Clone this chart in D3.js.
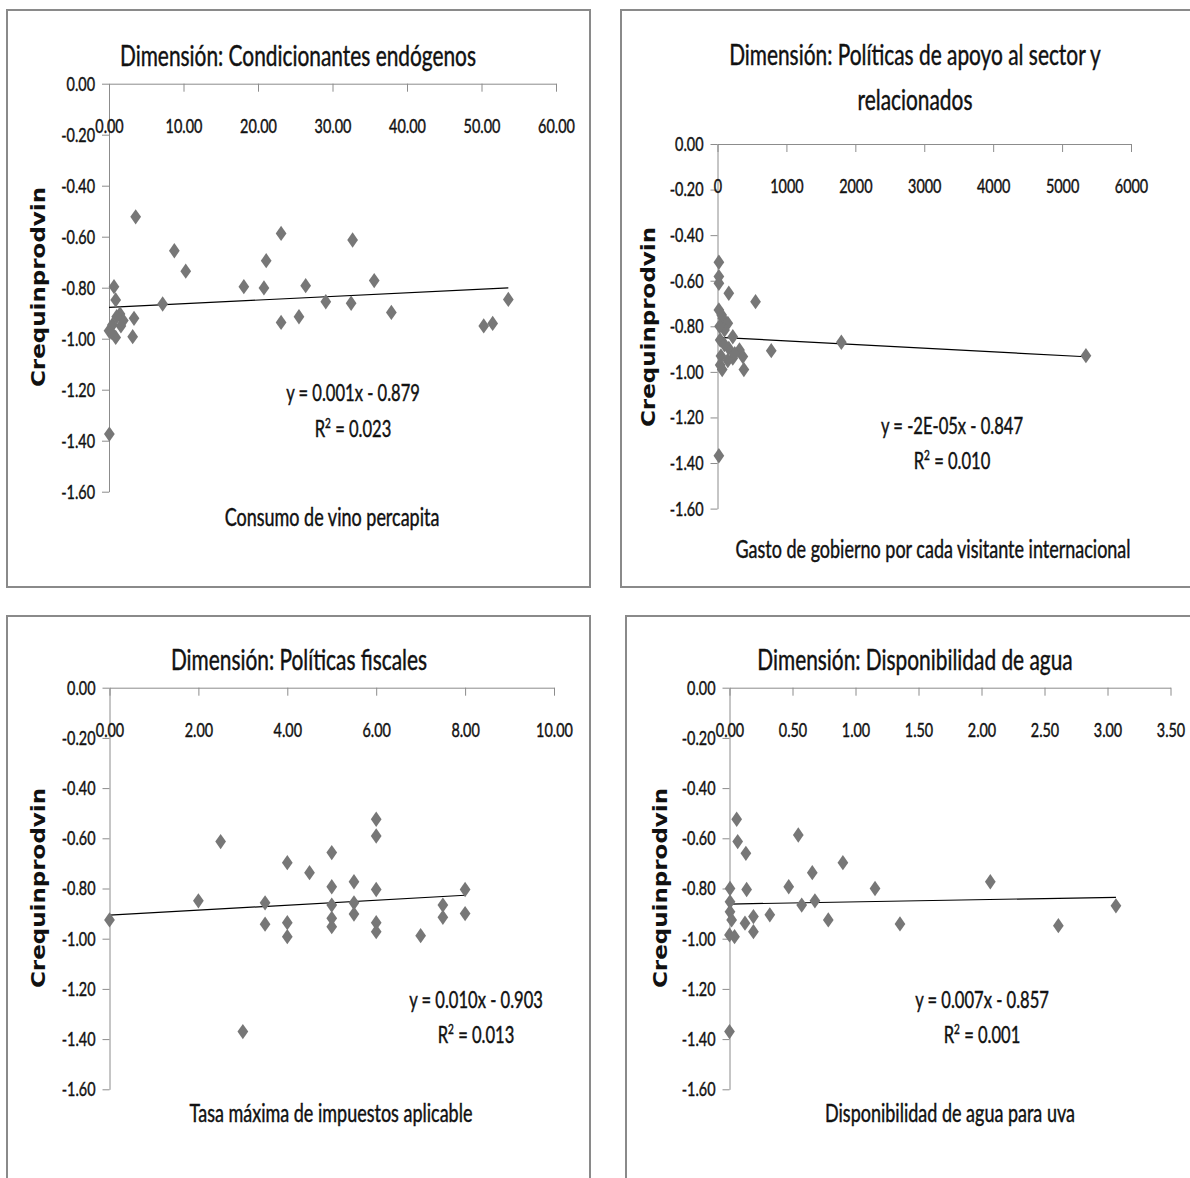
<!DOCTYPE html>
<html>
<head>
<meta charset="utf-8">
<script src="https://cdn.jsdelivr.net/npm/d3@7"></script>
<style>
  body { margin: 0; background: #fff; }
  text { font-family: Lato, "Open Sans", sans-serif; fill: #111; }
  text.heavy { stroke: #111; stroke-width: 0.45px; }
</style>
</head>
<body>
<div id="chart"></div>
<script>
// values
const titles = [
    ["Dimensión: Condicionantes endógenos"],
    ["Dimensión: Políticas de apoyo al sector y", "relacionados"],
    ["Dimensión: Políticas fiscales"],
    ["Dimensión: Disponibilidad de agua"]
];
const xTitles = [
    "Consumo de vino percapita",
    "Gasto de gobierno por cada visitante internacional",
    "Tasa máxima de impuestos aplicable",
    "Disponibilidad de agua para uva"
];
const yTitle = "Crequinprodvin";

const consumoX = [3.58, 8.77, 10.3, 23.1, 21.1, 32.7, 35.6, 18.1, 20.8, 26.4, 7.2, 29.1, 32.5, 37.9, 23.1, 25.5, 50.3, 51.5, 53.6, 0.05, 0.67, 0.9, 0.0, 0.45, 0.9, 1.48, 1.92, 1.03, 3.36, 3.18, 0.3, 1.6];
const consumoY = [-0.522, -0.655, -0.735, -0.587, -0.694, -0.613, -0.772, -0.796, -0.801, -0.792, -0.864, -0.855, -0.861, -0.897, -0.936, -0.914, -0.950, -0.940, -0.846, -1.374, -0.796, -0.848, -0.969, -0.946, -0.995, -0.903, -0.929, -0.914, -0.920, -0.992, -0.975, -0.950];

const gastoX = [20, 20, 20, 164, 552, 20, 77, 150, 102, 222, 39, 164, 319, 368, 222, 39, 68, 383, 780, 1797, 5346, 20, 60, 100, 50, 150, 250, 30];
const gastoY = [-0.519, -0.582, -0.611, -0.655, -0.692, -0.728, -0.765, -0.787, -0.816, -0.846, -0.860, -0.897, -0.904, -0.933, -0.940, -0.970, -0.990, -0.990, -0.907, -0.870, -0.929, -1.368, -0.750, -0.880, -0.930, -0.950, -0.920, -0.800];

const tasaX = [0, 2, 2.5, 3, 3.5, 3.5, 4, 4, 4, 4.5, 5, 5, 5, 5, 5, 5.5, 5.5, 5.5, 6, 6, 6, 6, 6, 7, 7.5, 7.5, 8, 8];
const tasaY = [-0.925, -0.849, -0.613, -1.370, -0.857, -0.942, -0.697, -0.936, -0.992, -0.737, -0.657, -0.793, -0.866, -0.919, -0.952, -0.773, -0.857, -0.902, -0.524, -0.591, -0.804, -0.936, -0.972, -0.988, -0.866, -0.915, -0.804, -0.900];

const aguaX = [0.057, 0.065, 0.13, 0.546, 0.90, 0.657, 0.47, 0.136, 0.004, 1.155, 2.07, 0.573, 0.678, 0.004, 0.004, 0.017, 0.32, 0.19, 0.123, 0.784, 1.353, 0.19, 0, 0.04, 2.61, 3.067, 0];
const aguaY = [-0.524, -0.613, -0.660, -0.587, -0.697, -0.737, -0.793, -0.804, -0.800, -0.800, -0.773, -0.866, -0.849, -0.853, -0.893, -0.925, -0.905, -0.912, -0.938, -0.925, -0.941, -0.972, -0.985, -0.992, -0.948, -0.869, -1.370];

const trendSlope = [0.00143, -0.000016, 0.0099, 0.0088];
const trendIntercept = [-0.877, -0.848, -0.906, -0.862];
const eqLabels = ["y = 0.001x - 0.879", "y = -2E-05x - 0.847", "y = 0.010x - 0.903", "y = 0.007x - 0.857"];
const r2Labels = ["0.023", "0.010", "0.013", "0.001"];

const xTicks = [
    [0, 10, 20, 30, 40, 50, 60],
    [0, 1000, 2000, 3000, 4000, 5000, 6000],
    [0, 2, 4, 6, 8, 10],
    [0, 0.5, 1, 1.5, 2, 2.5, 3, 3.5]
];
const yTicks = [0, -0.2, -0.4, -0.6, -0.8, -1.0, -1.2, -1.4, -1.6];

// layout of the four boxes
const SX = 0.72;   // the picture's text is narrow
const panels = [
    {xs: consumoX, ys: consumoY, box: [7, 10, 583, 577], px: [109, 556], py: [83.7, 491.7],
     title: [298, [66]], xt: [332, 526], yt: [38, 287], eq: [353, 401, 437], fmt: d => d.toFixed(2)},
    {xs: gastoX, ys: gastoY, box: [621, 10, 600, 577], px: [717.5, 1131], py: [144, 508.6],
     title: [915, [65, 110]], xt: [933, 558], yt: [648, 327], eq: [952, 434, 469], fmt: d => String(d)},
    {xs: tasaX, ys: tasaY, box: [7, 616, 583, 600], px: [109.5, 554], py: [687.7, 1089.3],
     title: [299, [670]], xt: [331, 1122], yt: [38, 888], eq: [476, 1008, 1043], fmt: d => d.toFixed(2)},
    {xs: aguaX, ys: aguaY, box: [626, 616, 600, 600], px: [729.5, 1170.5], py: [687.7, 1089.3],
     title: [915, [670]], xt: [950, 1122], yt: [660, 888], eq: [982, 1008, 1043], fmt: d => d.toFixed(2)}
];

const svg = d3.select("#chart").append("svg")
    .attr("width", 1190)
    .attr("height", 1178);

function label(g, s, x, y, size) {
    return g.append("text")
        .attr("class", "heavy")
        .attr("transform", `translate(${x},${y}) scale(${SX},1)`)
        .attr("text-anchor", "middle")
        .attr("font-size", size)
        .text(s);
}

const diamond = d3.symbol().type(d3.symbolDiamond2).size(150);

panels.forEach(function(p, i) {
    const g = svg.append("g");

    g.append("rect")
        .attr("x", p.box[0]).attr("y", p.box[1])
        .attr("width", p.box[2]).attr("height", p.box[3])
        .attr("fill", "none")
        .attr("stroke", "#8a8a8a")
        .attr("stroke-width", 2);

    const xMax = xTicks[i][xTicks[i].length - 1];
    const x = d3.scaleLinear().domain([0, xMax]).range(p.px);
    const y = d3.scaleLinear().domain([0, -1.6]).range(p.py);

    // y axis
    const ya = g.append("g")
        .attr("transform", `translate(${x(0)},0)`)
        .call(d3.axisLeft(y).tickValues(yTicks).tickSize(7).tickSizeOuter(0)
            .tickFormat(d => d.toFixed(2)));
    ya.selectAll("text")
        .attr("class", "heavy")
        .attr("x", -14 / SX)
        .attr("transform", `scale(${SX},1)`)
        .attr("font-size", 20)
        .attr("font-family", "Lato, 'Open Sans', sans-serif")
        .attr("fill", "#111");

    // x axis crosses at y = 0, at the top
    const xa = g.append("g")
        .attr("transform", `translate(0,${y(0)})`)
        .call(d3.axisBottom(x).tickValues(xTicks[i]).tickSize(8).tickSizeOuter(0)
            .tickPadding(27).tickFormat(p.fmt));
    xa.selectAll("text")
        .attr("class", "heavy")
        .attr("transform", `scale(${SX},1)`)
        .attr("font-size", 20)
        .attr("font-family", "Lato, 'Open Sans', sans-serif")
        .attr("fill", "#111");

    svg.selectAll(".domain, .tick line").attr("stroke", "#8c8c8c");

    // trend line across the data's x range
    const ext = d3.extent(p.xs);
    const line = d3.line().x(d => x(d)).y(d => y(trendSlope[i] * d + trendIntercept[i]));
    g.append("path")
        .attr("d", line(ext))
        .attr("fill", "none")
        .attr("stroke", "#000")
        .attr("stroke-width", 1.2);

    // points
    g.selectAll(".pt")
        .data(p.xs.map((v, k) => [v, p.ys[k]]))
        .join("path")
        .attr("class", "pt")
        .attr("d", diamond)
        .attr("transform", d => `translate(${x(d[0])},${y(d[1])}) scale(0.7,1)`)
        .attr("fill", "#777");

    // titles
    titles[i].forEach(function(t, k) {
        label(g, t, p.title[0], p.title[1][k], 29);
    });
    label(g, xTitles[i], p.xt[0], p.xt[1], 25);

    g.append("text")
        .attr("transform", `translate(${p.yt[0]},${p.yt[1]}) rotate(-90) scale(1,0.86)`)
        .attr("text-anchor", "middle")
        .attr("dy", "0.35em")
        .attr("font-size", 23)
        .attr("font-weight", "bold")
        .style("font-family", "'DejaVu Sans', Verdana, sans-serif")
        .text(yTitle);

    // equation
    label(g, eqLabels[i], p.eq[0], p.eq[1], 23);
    const r2 = label(g, "R", p.eq[0], p.eq[2], 23);
    r2.append("tspan").attr("font-size", 14).attr("dy", -9).text("2");
    r2.append("tspan").attr("dy", 9).text(" = " + r2Labels[i]);
});
</script>
</body>
</html>
